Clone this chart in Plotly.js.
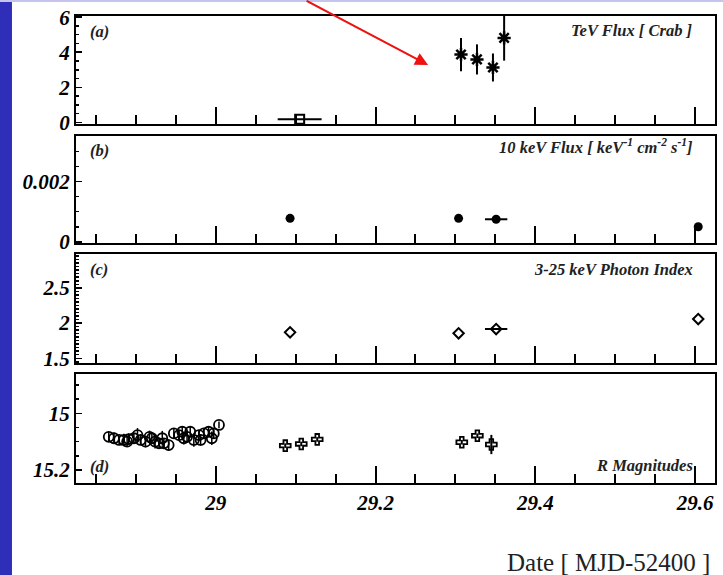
<!DOCTYPE html>
<html>
<head>
<meta charset="utf-8">
<script src="https://cdn.plot.ly/plotly-3.0.1.min.js"></script>
<style>html,body{margin:0;padding:0;background:#fff;}#chart{width:723px;height:575px;}</style>
</head>
<body>
<div id="chart"></div>
<script>
// ---- Data (MJD-52400) ----
// (a) TeV flux [Crab]
const tevX = [29.307, 29.327, 29.347, 29.361];
const tevY = [3.87, 3.59, 3.13, 4.82];
const tevErr = [0.95, 0.86, 0.80, 1.30];
const tevSqX = [29.105];
const tevSqY = [0.17];
const tevSqXErr = [0.0275];
// (b) 10 keV flux
const fluxX = [29.093, 29.304, 29.351, 29.604];
const fluxY = [0.00078, 0.00078, 0.00075, 0.00050];
const fluxXErr = [0, 0, 0.014, 0];
// (c) 3-25 keV photon index
const idxY = [1.868, 1.854, 1.915, 2.057];
// (d) R magnitudes (circles)
const rX = [28.866, 28.8725, 28.879, 28.885, 28.889, 28.891, 28.8975, 28.902, 28.906, 28.912,
            28.917, 28.920, 28.924, 28.929, 28.933, 28.935, 28.941, 28.9475, 28.954, 28.958,
            28.960, 28.964, 28.968, 28.9725, 28.979, 28.981, 28.985, 28.991, 28.995, 28.9975, 29.004];
const rY = [15.083, 15.088, 15.094, 15.094, 15.100, 15.091, 15.088, 15.077, 15.094, 15.100,
            15.083, 15.088, 15.100, 15.106, 15.088, 15.106, 15.112, 15.071, 15.077, 15.065,
            15.088, 15.083, 15.065, 15.094, 15.077, 15.094, 15.071, 15.065, 15.088, 15.071, 15.041];
const rErr = [0.018, 0.020, 0.015, 0.022, 0.018, 0.020, 0.016, 0.025, 0.018, 0.020,
              0.022, 0.017, 0.024, 0.020, 0.026, 0.018, 0.020, 0.018, 0.016, 0.020,
              0.022, 0.018, 0.016, 0.024, 0.018, 0.020, 0.016, 0.018, 0.024, 0.016, 0.012];
// (d) R magnitudes (crosses)
const rcX = [29.087, 29.107, 29.127, 29.308, 29.3275, 29.345];
const rcY = [15.114, 15.108, 15.092, 15.102, 15.079, 15.110];
const rcErr = [0.008, 0.008, 0.008, 0.008, 0.008, 0.034];

const xTicks = [29, 29.2, 29.4, 29.6];

const FONT = 'Liberation Serif, Times New Roman, serif';
const BLACK = '#000';

function errY(arr){ return {type:'data', array:arr, visible:true, color:BLACK, thickness:2, width:0}; }
function errX(arr){ return {type:'data', array:arr, visible:true, color:BLACK, thickness:2, width:0}; }

const traces = [
  {x: tevSqX, y: tevSqY, xaxis:'x', yaxis:'y', mode:'markers', type:'scatter',
   error_x: errX(tevSqXErr),
   marker:{symbol:'square-open', size:9, color:BLACK, line:{width:2, color:BLACK}}},
  {x: tevX, y: tevY, xaxis:'x', yaxis:'y', mode:'markers', type:'scatter',
   error_y: errY(tevErr),
   marker:{symbol:'asterisk-open', size:11, color:BLACK, line:{width:2.5, color:BLACK}}},
  {x: fluxX, y: fluxY, xaxis:'x2', yaxis:'y2', mode:'markers', type:'scatter',
   error_x: errX(fluxXErr),
   marker:{symbol:'circle', size:9, color:BLACK}},
  {x: fluxX, y: idxY, xaxis:'x3', yaxis:'y3', mode:'markers', type:'scatter',
   error_x: errX(fluxXErr),
   marker:{symbol:'diamond-open', size:8, color:BLACK, line:{width:2, color:BLACK}}},
  {x: rX, y: rY, xaxis:'x4', yaxis:'y4', mode:'markers', type:'scatter',
   error_y: Object.assign(errY(rErr), {thickness:1.5}),
   marker:{symbol:'circle-open', size:10, color:BLACK, line:{width:1.8, color:BLACK}}},
  {x: rcX, y: rcY, xaxis:'x4', yaxis:'y4', mode:'markers', type:'scatter',
   error_y: errY(rcErr),
   marker:{symbol:'cross-open', size:9, color:BLACK, line:{width:1.8, color:BLACK}}}
];

const tickFont = {family: FONT, size: 21, color: BLACK, weight: 'bold', style: 'italic'};

function xAx(anchor, showLabels){
  return {
    anchor: anchor, range:[28.825, 29.625], showline:true, mirror:true, linecolor:BLACK, linewidth:2,
    ticks:'inside', ticklen:17, tickwidth:2, tickcolor:BLACK,
    tickmode:'array', tickvals: xTicks, ticktext: xTicks.map(String),
    showticklabels: showLabels, tickfont: tickFont,
    minor:{ticks:'inside', ticklen:9, tickwidth:2, tickcolor:BLACK, dtick:0.05, tick0:29, showgrid:false},
    showgrid:false, zeroline:false, fixedrange:true
  };
}
function yAx(domain, range, dtick, tick0, minorDtick, extra){
  return Object.assign({
    domain: domain, range: range, showline:true, mirror:true, linecolor:BLACK, linewidth:2,
    ticks:'inside', ticklen:6, tickwidth:1.5, tickcolor:BLACK,
    dtick: dtick, tick0: tick0, tickfont: tickFont,
    minor:{ticks:'inside', ticklen:3, tickwidth:1.5, tickcolor:BLACK, dtick:minorDtick, tick0:tick0, showgrid:false},
    showgrid:false, zeroline:false, fixedrange:true
  }, extra || {});
}

const labFont = {family: FONT, size: 16.5, color: '#222', weight:'bold', style:'italic'};
function lab(xr, yr, x, y, text, anchor){
  return {xref: xr + ' domain', yref: yr + ' domain', x: x, y: y, text: text, showarrow:false,
          xanchor: anchor, yanchor:'middle', font: labFont};
}

const layout = {
  width:723, height:575,
  margin:{l:76, r:8, t:16, b:92},
  paper_bgcolor:'#fff', plot_bgcolor:'#fff',
  showlegend:false,
  xaxis: xAx('y', false),
  xaxis2: xAx('y2', false),
  xaxis3: xAx('y3', false),
  xaxis4: xAx('y4', true),
  yaxis: yAx([0.7687, 1.0], [-0.1, 6.07], 2, 0, 0.5),
  yaxis2: yAx([0.5139, 0.7430], [-0.00004, 0.00352], 0.002, 0, 0.0005, {tickformat:'.3~f'}),
  yaxis3: yAx([0.2570, 0.4904], [1.433, 2.98], 0.5, 1.5, 0.05),
  yaxis4: yAx([0.0, 0.2334], [15.246, 14.861], 0.2, 15, 0.05),
  annotations: [
    lab('x','y', 0.0188, 0.861, '(a)', 'left'),
    lab('x','y', 0.9687, 0.87, 'TeV Flux [ Crab ]', 'right'),
    lab('x2','y2', 0.0188, 0.869, '(b)', 'left'),
    lab('x2','y2', 0.9687, 0.905, '10 keV Flux [ keV<sup>-1</sup> cm<sup>-2</sup> s<sup>-1</sup>]', 'right'),
    lab('x3','y3', 0.0188, 0.862, '(c)', 'left'),
    lab('x3','y3', 0.9687, 0.862, '3-25 keV Photon Index', 'right'),
    lab('x4','y4', 0.0188, 0.147, '(d)', 'left'),
    lab('x4','y4', 0.9687, 0.165, 'R Magnitudes', 'right'),
    {xref:'paper', yref:'paper', x:0.9953, y:-0.1713, xanchor:'right', yanchor:'middle',
     text:'Date [ MJD-52400 ]', showarrow:false, font:{family:FONT, size:25, color:'#222'}},
    {xref:'paper', yref:'paper', x:0.551, y:0.895, text:'', showarrow:true,
     ax:-123, ay:-70, arrowcolor:'#ee1111', arrowwidth:2, arrowhead:2, arrowsize:1.3, standoff:0}
  ],
  shapes: [
    {type:'rect', xref:'paper', yref:'paper', x0:-0.125, x1:-0.1002, y0:-0.25, y1:1.05,
     fillcolor:'#2e2eb8', line:{width:0}, layer:'below'},
    {type:'rect', xref:'paper', yref:'paper', x0:-0.125, x1:1.02, y0:1.0300, y1:1.05,
     fillcolor:'#c4c4ee', line:{width:0}, layer:'below'}
  ]
};

Plotly.newPlot('chart', traces, layout, {displayModeBar:false, staticPlot:true});
</script>
</body>
</html>
